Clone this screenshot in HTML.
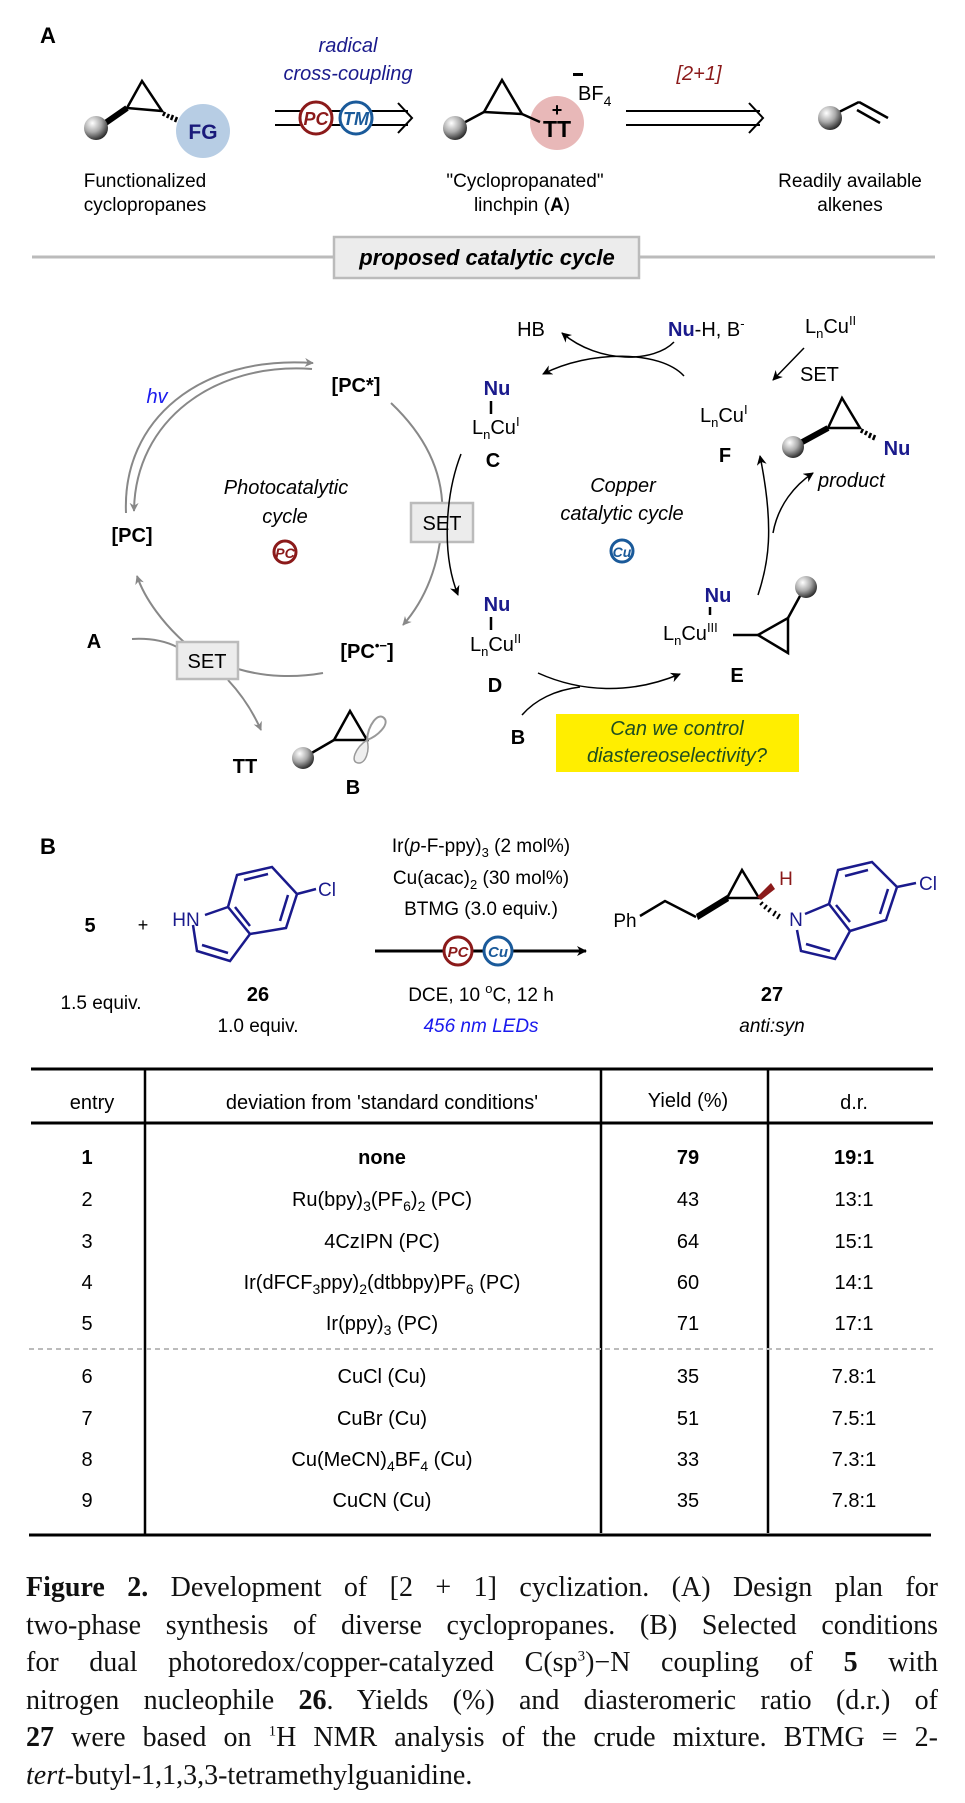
<!DOCTYPE html>
<html><head><meta charset="utf-8"><style>
html,body{margin:0;padding:0;background:#fff;}
body{width:965px;height:1803px;position:relative;overflow:hidden;font-family:"Liberation Sans",sans-serif;}
svg{position:absolute;left:0;top:0;}
.cap{position:absolute;left:26px;top:1569px;width:912px;font-family:"Liberation Serif",serif;font-size:28px;line-height:37.5px;color:#111;}
.cap div{text-align:justify;text-align-last:justify;white-space:nowrap;}
.cap div.last{text-align-last:left;}
.cap sup{font-size:15px;line-height:0;}
</style></head><body>
<svg width="965" height="1803" viewBox="0 0 965 1803" font-family="Liberation Sans, sans-serif">
<defs>
<radialGradient id="ball" cx="0.35" cy="0.3" r="0.75"><stop offset="0" stop-color="#fff"/><stop offset="0.5" stop-color="#aaa"/><stop offset="1" stop-color="#222"/></radialGradient>
<marker id="ag" viewBox="0 0 10 10" refX="9" refY="5" markerWidth="9" markerHeight="9" orient="auto" markerUnits="userSpaceOnUse"><path d="M0,0 L10,5 L0,10 L3,5z" fill="#888"/></marker>
<marker id="ab" viewBox="0 0 10 10" refX="9" refY="5" markerWidth="10" markerHeight="10" orient="auto" markerUnits="userSpaceOnUse"><path d="M0,0 L10,5 L0,10 L3,5z" fill="#000"/></marker>
</defs>

<!-- Section A -->
<text x="40" y="43" font-size="22" font-weight="bold">A</text>
<text x="348" y="52" font-size="20" font-style="italic" fill="#1a1a8c" text-anchor="middle">radical</text>
<text x="348" y="80" font-size="20" font-style="italic" fill="#1a1a8c" text-anchor="middle">cross-coupling</text>

<circle cx="203" cy="131" r="27" fill="#b7cde4"/>
<line x1="104" y1="124" x2="127" y2="108" stroke="#000" stroke-width="6"/>
<polygon points="127,108 142,81 162,111" fill="none" stroke="#000" stroke-width="2.5" stroke-linejoin="miter"/>
<path d="M165,112 l-2,4 M169,114 l-2,4 M173,115 l-2,5 M177,117 l-2,5" stroke="#000" stroke-width="2.5"/>
<circle cx="96" cy="128" r="12" fill="url(#ball)"/>
<text x="203" y="139" font-size="21" font-weight="bold" fill="#1a1a7a" text-anchor="middle">FG</text>
<text x="145" y="187" font-size="19" text-anchor="middle">Functionalized</text>
<text x="145" y="211" font-size="19" text-anchor="middle">cyclopropanes</text>

<line x1="275" y1="111" x2="408" y2="111" stroke="#000" stroke-width="2"/>
<line x1="275" y1="125" x2="408" y2="125" stroke="#000" stroke-width="2"/>
<polyline points="398,103 412,118 398,133" fill="none" stroke="#000" stroke-width="2"/>
<g>
<circle cx="316" cy="118" r="16" fill="#fff" stroke="#8b1a1a" stroke-width="3"/>
<text x="316" y="125" font-size="18" font-style="italic" font-weight="bold" fill="#8b1a1a" text-anchor="middle">PC</text>
<circle cx="356" cy="118" r="16" fill="#fff" stroke="#1a5a9a" stroke-width="3"/>
<text x="356" y="125" font-size="18" font-style="italic" font-weight="bold" fill="#1a5a9a" text-anchor="middle">TM</text>
</g>

<circle cx="557" cy="123" r="27" fill="#e8b8b8"/>
<line x1="456" y1="127" x2="484" y2="112" stroke="#000" stroke-width="2.5"/>
<polygon points="484,112 502,80 522,114" fill="none" stroke="#000" stroke-width="2.5"/>
<line x1="522" y1="114" x2="540" y2="122" stroke="#000" stroke-width="2.5"/>
<circle cx="455" cy="128" r="12" fill="url(#ball)"/>
<text x="557" y="137" font-size="23" font-weight="bold" text-anchor="middle">TT</text>
<text x="557" y="116" font-size="18" font-weight="bold" text-anchor="middle">+</text>
<rect x="573" y="73" width="10" height="3" fill="#000"/>
<text x="578" y="100" font-size="20">BF<tspan font-size="14" dy="6">4</tspan></text>
<text x="699" y="80" font-size="20" font-style="italic" fill="#8b1a1a" text-anchor="middle">[2+1]</text>
<line x1="626" y1="111" x2="760" y2="111" stroke="#000" stroke-width="2"/>
<line x1="626" y1="125" x2="760" y2="125" stroke="#000" stroke-width="2"/>
<polyline points="749,103 763,118 749,133" fill="none" stroke="#000" stroke-width="2"/>
<line x1="835" y1="114" x2="859" y2="102" stroke="#000" stroke-width="2.5"/>
<line x1="859" y1="102" x2="888" y2="118" stroke="#000" stroke-width="2.5"/>
<line x1="857" y1="110" x2="880" y2="123" stroke="#000" stroke-width="2.5"/>
<circle cx="830" cy="118" r="12" fill="url(#ball)"/>
<text x="525" y="187" font-size="19" text-anchor="middle">"Cyclopropanated"</text>
<text x="522" y="211" font-size="19" text-anchor="middle">linchpin (<tspan font-weight="bold">A</tspan>)</text>
<text x="850" y="187" font-size="19" text-anchor="middle">Readily available</text>
<text x="850" y="211" font-size="19" text-anchor="middle">alkenes</text>

<line x1="32" y1="257" x2="935" y2="257" stroke="#bbb" stroke-width="3"/>
<rect x="334" y="237" width="305" height="41" fill="#ececec" stroke="#bbb" stroke-width="2.5"/>
<text x="487" y="265" font-size="22" font-weight="bold" font-style="italic" text-anchor="middle">proposed catalytic cycle</text>

<!-- Photocatalytic cycle -->
<path d="M126,513 C122,420 200,355 313,363" fill="none" stroke="#888" stroke-width="2" marker-end="url(#ag)"/>
<path d="M312,369 C215,362 135,420 134,511" fill="none" stroke="#888" stroke-width="2" marker-end="url(#ag)"/>
<text x="157" y="403" font-size="20" font-style="italic" fill="#1a1aee" text-anchor="middle">hv</text>
<text x="356" y="392" font-size="20" font-weight="bold" text-anchor="middle">[PC*]</text>
<text x="132" y="542" font-size="20" font-weight="bold" text-anchor="middle">[PC]</text>
<text x="367" y="658" font-size="20" font-weight="bold" text-anchor="middle">[PC<tspan font-size="13" dy="-8">•−</tspan><tspan dy="8">]</tspan></text>
<path d="M391,403 C430,440 445,480 442,520 C440,565 425,600 403,625" fill="none" stroke="#888" stroke-width="2" marker-end="url(#ag)"/>
<path d="M184,642 C165,625 145,600 137,576" fill="none" stroke="#888" stroke-width="2" marker-end="url(#ag)"/>
<path d="M132,639 C150,638 165,641 177,647" fill="none" stroke="#888" stroke-width="2"/>
<path d="M238,669 C265,677 295,678 323,673" fill="none" stroke="#888" stroke-width="2"/>
<path d="M228,680 C242,695 253,712 261,730" fill="none" stroke="#888" stroke-width="2" marker-end="url(#ag)"/>
<rect x="411" y="503" width="62" height="39" fill="#ececec" stroke="#bbb" stroke-width="2.5"/>
<text x="442" y="530" font-size="20" text-anchor="middle">SET</text>
<rect x="177" y="642" width="61" height="37" fill="#ececec" stroke="#bbb" stroke-width="2.5"/>
<text x="207" y="668" font-size="20" text-anchor="middle">SET</text>
<text x="94" y="648" font-size="20" font-weight="bold" text-anchor="middle">A</text>
<text x="245" y="773" font-size="20" font-weight="bold" text-anchor="middle">TT</text>
<text x="353" y="794" font-size="20" font-weight="bold" text-anchor="middle">B</text>
<text x="286" y="494" font-size="20" font-style="italic" text-anchor="middle">Photocatalytic</text>
<text x="285" y="523" font-size="20" font-style="italic" text-anchor="middle">cycle</text>
<circle cx="285" cy="552" r="11" fill="none" stroke="#8b1a1a" stroke-width="3"/>
<text x="285" y="558" font-size="14" font-weight="bold" font-style="italic" fill="#8b1a1a" text-anchor="middle">PC</text>
<!-- radical B -->
<line x1="303" y1="758" x2="334" y2="740" stroke="#000" stroke-width="2.5"/>
<polygon points="334,740 350,711 367,740" fill="none" stroke="#000" stroke-width="2.5"/>
<path d="M367,740 C368,725 378,712 384,718 C390,724 378,736 367,740z" fill="none" stroke="#999" stroke-width="2"/>
<path d="M367,740 C355,748 350,762 358,763 C366,764 370,750 367,740z" fill="#eee" stroke="#999" stroke-width="1.5"/>
<circle cx="303" cy="758" r="11" fill="url(#ball)"/>

<!-- Copper cycle -->
<text x="531" y="336" font-size="20" text-anchor="middle">HB</text>
<text x="668" y="336" font-size="20"><tspan font-weight="bold" fill="#1a1a8c">Nu</tspan>-H, B<tspan font-size="13" dy="-8">-</tspan></text>
<text x="805" y="333" font-size="20">L<tspan font-size="13" dy="5">n</tspan><tspan dy="-5">Cu</tspan><tspan font-size="13" dy="-8">II</tspan></text>
<text x="800" y="381" font-size="20">SET</text>
<line x1="804" y1="348" x2="773" y2="380" stroke="#000" stroke-width="1.5" marker-end="url(#ab)"/>
<path d="M674,342 C655,362 600,365 562,333" fill="none" stroke="#000" stroke-width="1.5" marker-end="url(#ab)"/>
<path d="M684,376 C660,350 590,350 543,374" fill="none" stroke="#000" stroke-width="1.5" marker-end="url(#ab)"/>
<text x="497" y="395" font-size="20" font-weight="bold" fill="#1a1a8c" text-anchor="middle">Nu</text>
<line x1="491" y1="401" x2="491" y2="414" stroke="#000" stroke-width="2.5"/>
<text x="472" y="434" font-size="20">L<tspan font-size="13" dy="5">n</tspan><tspan dy="-5">Cu</tspan><tspan font-size="13" dy="-8">I</tspan></text>
<text x="493" y="467" font-size="20" font-weight="bold" text-anchor="middle">C</text>
<path d="M461,454 C447,490 440,550 458,595" fill="none" stroke="#000" stroke-width="1.5" marker-end="url(#ab)"/>
<text x="497" y="611" font-size="20" font-weight="bold" fill="#1a1a8c" text-anchor="middle">Nu</text>
<line x1="491" y1="617" x2="491" y2="630" stroke="#000" stroke-width="2.5"/>
<text x="470" y="651" font-size="20">L<tspan font-size="13" dy="5">n</tspan><tspan dy="-5">Cu</tspan><tspan font-size="13" dy="-8">II</tspan></text>
<text x="495" y="692" font-size="20" font-weight="bold" text-anchor="middle">D</text>
<path d="M538,673 C580,692 630,695 680,674" fill="none" stroke="#000" stroke-width="1.5" marker-end="url(#ab)"/>
<path d="M522,715 C535,700 555,690 580,687" fill="none" stroke="#000" stroke-width="1.5"/>
<text x="518" y="744" font-size="20" font-weight="bold" text-anchor="middle">B</text>
<rect x="556" y="714" width="243" height="58" fill="#ffee00"/>
<text x="677" y="735" font-size="20" font-style="italic" fill="#1f4d1f" text-anchor="middle">Can we control</text>
<text x="677" y="762" font-size="20" font-style="italic" fill="#1f4d1f" text-anchor="middle">diastereoselectivity?</text>
<text x="623" y="492" font-size="20" font-style="italic" text-anchor="middle">Copper</text>
<text x="622" y="520" font-size="20" font-style="italic" text-anchor="middle">catalytic cycle</text>
<circle cx="622" cy="551" r="11" fill="none" stroke="#1a5a9a" stroke-width="3"/>
<text x="622" y="557" font-size="14" font-weight="bold" font-style="italic" fill="#1a5a9a" text-anchor="middle">Cu</text>
<text x="718" y="602" font-size="20" font-weight="bold" fill="#1a1a8c" text-anchor="middle">Nu</text>
<line x1="710" y1="607" x2="710" y2="615" stroke="#000" stroke-width="2.5"/>
<text x="663" y="640" font-size="20">L<tspan font-size="13" dy="5">n</tspan><tspan dy="-5">Cu</tspan><tspan font-size="13" dy="-8">III</tspan></text>
<line x1="733" y1="635" x2="758" y2="635" stroke="#000" stroke-width="2.5"/>
<polygon points="758,635 788,618 788,653" fill="none" stroke="#000" stroke-width="2.5"/>
<line x1="788" y1="618" x2="800" y2="596" stroke="#000" stroke-width="2.5"/>
<circle cx="806" cy="587" r="11" fill="url(#ball)"/>
<text x="737" y="682" font-size="20" font-weight="bold" text-anchor="middle">E</text>
<path d="M758,595 C768,565 775,530 760,456" fill="none" stroke="#000" stroke-width="1.5" marker-end="url(#ab)"/>
<path d="M773,533 C778,505 795,485 813,473" fill="none" stroke="#000" stroke-width="1.5" marker-end="url(#ab)"/>
<text x="700" y="422" font-size="20">L<tspan font-size="13" dy="5">n</tspan><tspan dy="-5">Cu</tspan><tspan font-size="13" dy="-8">I</tspan></text>
<text x="725" y="462" font-size="20" font-weight="bold" text-anchor="middle">F</text>
<line x1="795" y1="446" x2="828" y2="428" stroke="#000" stroke-width="6"/>
<polygon points="828,428 842,398 860,428" fill="none" stroke="#000" stroke-width="2.5"/>
<path d="M863,429 l-2,4 M867,431 l-2,4 M871,433 l-2,5 M875,435 l-2,5" stroke="#000" stroke-width="2.5"/>
<circle cx="793" cy="447" r="11" fill="url(#ball)"/>
<text x="897" y="455" font-size="20" font-weight="bold" fill="#1a1a8c" text-anchor="middle">Nu</text>
<text x="818" y="487" font-size="20" font-style="italic">product</text>

<!-- Section B -->
<text x="40" y="854" font-size="22" font-weight="bold">B</text>
<text x="90" y="932" font-size="20" font-weight="bold" text-anchor="middle">5</text>
<text x="143" y="931" font-size="18" text-anchor="middle">+</text>
<text x="101" y="1009" font-size="19" text-anchor="middle">1.5 equiv.</text>
<g stroke="#1a1a8c" stroke-width="2.5" fill="none">
<polygon points="237,875 272,867 297,894 286,928 250,934 228,907"/>
<line x1="244" y1="880" x2="268" y2="874"/><line x1="288" y1="895" x2="280" y2="921"/><line x1="250" y1="926" x2="235" y2="907"/>
<polyline points="228,907 205,915"/>
<polyline points="193,925 197,951 230,961 250,934"/>
<line x1="202" y1="945" x2="228" y2="953"/>
<line x1="297" y1="894" x2="316" y2="889"/>
</g>
<text x="186" y="926" font-size="19" fill="#1a1a8c" text-anchor="middle">HN</text>
<text x="327" y="896" font-size="19" fill="#1a1a8c" text-anchor="middle">Cl</text>
<text x="258" y="1001" font-size="20" font-weight="bold" text-anchor="middle">26</text>
<text x="258" y="1032" font-size="19" text-anchor="middle">1.0 equiv.</text>

<text x="481" y="852" font-size="19" text-anchor="middle">Ir(<tspan font-style="italic">p</tspan>-F-ppy)<tspan font-size="13" dy="5">3</tspan><tspan dy="-5"> (2 mol%)</tspan></text>
<text x="481" y="884" font-size="19" text-anchor="middle">Cu(acac)<tspan font-size="13" dy="5">2</tspan><tspan dy="-5"> (30 mol%)</tspan></text>
<text x="481" y="915" font-size="19" text-anchor="middle">BTMG (3.0 equiv.)</text>
<line x1="375" y1="951" x2="586" y2="951" stroke="#000" stroke-width="3" marker-end="url(#ab)"/>
<circle cx="458" cy="951" r="14" fill="#fff" stroke="#8b1a1a" stroke-width="3"/>
<text x="458" y="957" font-size="15" font-weight="bold" font-style="italic" fill="#8b1a1a" text-anchor="middle">PC</text>
<circle cx="498" cy="951" r="14" fill="#fff" stroke="#1a5a9a" stroke-width="3"/>
<text x="498" y="957" font-size="15" font-weight="bold" font-style="italic" fill="#1a5a9a" text-anchor="middle">Cu</text>
<text x="481" y="1001" font-size="19" text-anchor="middle">DCE, 10 <tspan font-size="13" dy="-8">o</tspan><tspan dy="8">C, 12 h</tspan></text>
<text x="481" y="1032" font-size="19" font-style="italic" fill="#1a1aee" text-anchor="middle">456 nm LEDs</text>

<text x="625" y="927" font-size="19" text-anchor="middle">Ph</text>
<polyline points="640,916 665,901 696,917" fill="none" stroke="#000" stroke-width="2.5"/>
<polygon points="696,914 727,895 729,901 698,920" fill="#000"/>
<polygon points="727,898 742,870 759,898" fill="none" stroke="#000" stroke-width="2.5"/>
<polygon points="757,897 771,883 775,889 761,900" fill="#8b1a1a"/>
<text x="786" y="885" font-size="19" fill="#8b1a1a" text-anchor="middle">H</text>
<path d="M763,902 l-3,3 M767,905 l-3,4 M771,908 l-3,4 M776,911 l-3,5 M780,914 l-3,5" stroke="#000" stroke-width="2"/>
<text x="796" y="926" font-size="19" fill="#1a1a8c" text-anchor="middle">N</text>
<g stroke="#1a1a8c" stroke-width="2.5" fill="none">
<polygon points="838,870 872,862 897,887 886,920 850,931 829,904"/>
<line x1="845" y1="876" x2="868" y2="870"/><line x1="888" y1="889" x2="880" y2="914"/><line x1="850" y1="922" x2="836" y2="905"/>
<line x1="829" y1="904" x2="805" y2="914"/>
<polyline points="797,930 801,951 835,959 850,931"/>
<line x1="806" y1="944" x2="830" y2="951"/>
<line x1="897" y1="887" x2="916" y2="883"/>
</g>
<text x="928" y="890" font-size="19" fill="#1a1a8c" text-anchor="middle">Cl</text>
<text x="772" y="1001" font-size="20" font-weight="bold" text-anchor="middle">27</text>
<text x="772" y="1032" font-size="19" font-style="italic" text-anchor="middle">anti:syn</text>

<!-- Table -->
<line x1="31" y1="1069" x2="933" y2="1069" stroke="#000" stroke-width="3"/>
<line x1="31" y1="1123" x2="933" y2="1123" stroke="#000" stroke-width="3"/>
<line x1="29" y1="1535" x2="931" y2="1535" stroke="#000" stroke-width="3"/>
<line x1="145" y1="1069" x2="145" y2="1535" stroke="#000" stroke-width="2.5"/>
<line x1="601" y1="1069" x2="601" y2="1533" stroke="#000" stroke-width="2.5"/>
<line x1="768" y1="1069" x2="768" y2="1533" stroke="#000" stroke-width="2.5"/>
<line x1="29" y1="1349" x2="933" y2="1349" stroke="#bbb" stroke-width="2" stroke-dasharray="5,4"/>
<g font-size="20" text-anchor="middle">
<text x="92" y="1109">entry</text><text x="382" y="1109">deviation from 'standard conditions'</text><text x="688" y="1107">Yield (%)</text><text x="854" y="1109">d.r.</text>
<g font-weight="bold"><text x="87" y="1164">1</text><text x="382" y="1164">none</text><text x="688" y="1164">79</text><text x="854" y="1164">19:1</text></g>
<text x="87" y="1206">2</text><text x="382" y="1206">Ru(bpy)<tspan font-size="14" dy="5">3</tspan><tspan dy="-5">(PF</tspan><tspan font-size="14" dy="5">6</tspan><tspan dy="-5">)</tspan><tspan font-size="14" dy="5">2</tspan><tspan dy="-5"> (PC)</tspan></text><text x="688" y="1206">43</text><text x="854" y="1206">13:1</text>
<text x="87" y="1248">3</text><text x="382" y="1248">4CzIPN (PC)</text><text x="688" y="1248">64</text><text x="854" y="1248">15:1</text>
<text x="87" y="1289">4</text><text x="382" y="1289">Ir(dFCF<tspan font-size="14" dy="5">3</tspan><tspan dy="-5">ppy)</tspan><tspan font-size="14" dy="5">2</tspan><tspan dy="-5">(dtbbpy)PF</tspan><tspan font-size="14" dy="5">6</tspan><tspan dy="-5"> (PC)</tspan></text><text x="688" y="1289">60</text><text x="854" y="1289">14:1</text>
<text x="87" y="1330">5</text><text x="382" y="1330">Ir(ppy)<tspan font-size="14" dy="5">3</tspan><tspan dy="-5"> (PC)</tspan></text><text x="688" y="1330">71</text><text x="854" y="1330">17:1</text>
<text x="87" y="1383">6</text><text x="382" y="1383">CuCl (Cu)</text><text x="688" y="1383">35</text><text x="854" y="1383">7.8:1</text>
<text x="87" y="1425">7</text><text x="382" y="1425">CuBr  (Cu)</text><text x="688" y="1425">51</text><text x="854" y="1425">7.5:1</text>
<text x="87" y="1466">8</text><text x="382" y="1466">Cu(MeCN)<tspan font-size="14" dy="5">4</tspan><tspan dy="-5">BF</tspan><tspan font-size="14" dy="5">4</tspan><tspan dy="-5"> (Cu)</tspan></text><text x="688" y="1466">33</text><text x="854" y="1466">7.3:1</text>
<text x="87" y="1507">9</text><text x="382" y="1507">CuCN  (Cu)</text><text x="688" y="1507">35</text><text x="854" y="1507">7.8:1</text>
</g>
</svg>
<div class="cap">
<div><b>Figure 2.</b> Development of [2 + 1] cyclization. (A) Design plan for</div>
<div>two-phase synthesis of diverse cyclopropanes. (B) Selected conditions</div>
<div>for dual photoredox/copper-catalyzed C(sp<sup>3</sup>)−N coupling of <b>5</b> with</div>
<div>nitrogen nucleophile <b>26</b>. Yields (%) and diasteromeric ratio (d.r.) of</div>
<div><b>27</b> were based on <sup>1</sup>H NMR analysis of the crude mixture. BTMG = 2-</div>
<div class="last"><i>tert</i>-butyl-1,1,3,3-tetramethylguanidine.</div>
</div>
</body></html>
